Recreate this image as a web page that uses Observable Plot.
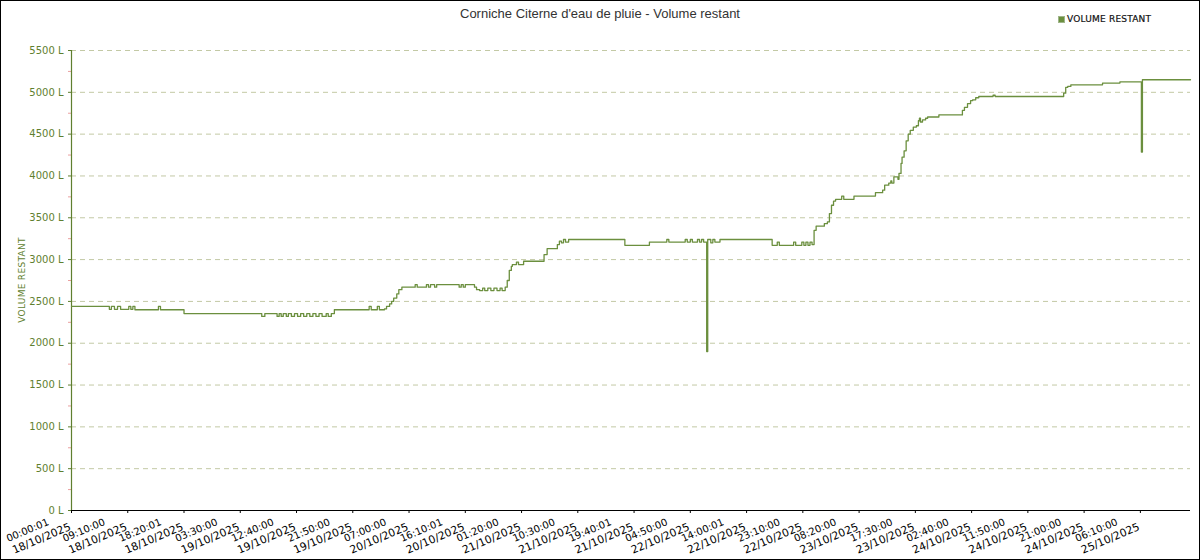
<!DOCTYPE html>
<html><head><meta charset="utf-8">
<script src="https://cdn.jsdelivr.net/npm/d3@7"></script>
<script src="https://cdn.jsdelivr.net/npm/@observablehq/plot@0.6"></script>
<style>
body{margin:0;background:#fff}
#wrap{position:relative;width:1200px;height:560px;box-sizing:border-box;border:1px solid #000;overflow:hidden;background:#fff}
#title{position:absolute;left:0;top:5px;width:1198px;text-align:center;font:13px "Liberation Sans",sans-serif;color:#333;line-height:16px}
#legsq{position:absolute;left:1057px;top:15px;width:5px;height:5px;background:#6b8f3e;border:1px solid #9fb58a}
#legtx{position:absolute;left:1066px;top:12px;font:9px "DejaVu Sans",sans-serif;color:#111;line-height:12px;letter-spacing:0.2px;-webkit-text-stroke:0.2px #111}
#ylab{position:absolute;left:21px;top:279px;transform:translate(-50%,-50%) rotate(-90deg);font:9px "DejaVu Sans",sans-serif;color:#5f7f2f;white-space:nowrap;letter-spacing:0.3px}
#chart{position:absolute;left:0;top:0}
</style></head>
<body>
<div id="wrap">
  <div id="chart"></div>
  <div id="title">Corniche Citerne d'eau de pluie - Volume restant</div>
  <div id="legsq"></div>
  <div id="legtx">VOLUME RESTANT</div>
  <div id="ylab">VOLUME RESTANT</div>
</div>
<script>
// x tick labels (two lines)
const tickTimes = ["00:00:01","09:10:00","18:20:01","03:30:00","12:40:00","21:50:00","07:00:00","16:10:01","01:20:00","10:30:00","19:40:01","04:50:00","14:00:01","23:10:00","08:20:00","17:30:00","02:40:00","11:50:00","21:00:00","06:10:00"];
const tickDays = ["18/10/2025","18/10/2025","18/10/2025","19/10/2025","19/10/2025","19/10/2025","20/10/2025","20/10/2025","21/10/2025","21/10/2025","21/10/2025","22/10/2025","22/10/2025","22/10/2025","23/10/2025","23/10/2025","24/10/2025","24/10/2025","24/10/2025","25/10/2025"];
// y ticks
const yTicks = [0,500,1000,1500,2000,2500,3000,3500,4000,4500,5000,5500];
const yMinor = [250,750,1250,1750,2250,2750,3250,3750,4250,4750,5250];
// series: day-of-October + time, volume in litres
const times = ["18 00:00","18 06:10","18 06:30","18 07:00","18 07:30","18 08:00","18 09:20","18 09:40","18 10:00","18 10:20","18 14:10","18 14:30","18 18:20",
"19 07:00","19 07:30","19 09:30","19 09:50","19 10:10","19 10:30","19 11:00","19 11:20","19 11:50","19 12:20","19 12:50","19 13:20","19 13:50","19 14:20","19 14:50","19 15:20","19 15:50","19 16:20","19 16:50","19 17:30","19 17:50","19 18:20","19 18:50",
"20 00:30","20 00:50","20 01:50","20 02:10","20 03:00","20 03:20","20 03:50","20 04:10","20 04:30","20 05:00","20 05:20","20 05:50","20 08:00","20 08:20","20 09:50","20 10:10","20 10:30","20 11:10","20 11:30","20 15:10","20 15:30","20 15:50","20 16:10","20 17:40","20 18:00","20 18:30","20 19:00","20 19:20","20 19:50","20 20:20","20 20:50","20 21:20","20 21:50","20 22:10","20 22:40","20 23:00","20 23:20","20 23:40","20 23:50",
"21 00:30","21 00:50","21 01:40","21 05:00","21 05:30","21 07:10","21 07:30","21 07:50","21 08:10","21 08:30","21 09:00","21 18:10","21 22:10",
"22 01:00","22 01:20","22 04:00","22 04:20","22 04:50","22 05:10","22 06:00","22 06:20","22 06:40","22 07:00","22 07:30","22 07:40","22 08:10","22 08:30","22 08:50","22 09:40","22 18:10","22 19:00","22 19:20","22 21:40","22 22:00","22 23:00","22 23:20","22 23:40",
"23 00:00","23 00:20","23 00:40","23 01:00","23 01:20","23 02:40","23 03:10","23 03:30","23 03:50","23 04:10","23 04:30","23 05:30","23 05:50","23 07:30","23 11:00","23 12:10","23 12:30","23 13:10","23 13:30","23 13:40","23 14:00","23 14:40","23 14:50","23 15:10","23 15:20","23 15:40","23 16:00","23 16:20","23 16:40","23 17:10","23 17:40","23 18:00","23 18:10","23 18:20","23 18:40","23 19:10","23 19:30","23 21:20",
"24 01:10","24 01:30","24 02:00","24 02:30","24 02:50","24 03:20","24 03:50","24 06:10","24 06:30","24 17:40","24 18:00","24 18:20","24 18:50",
"25 00:00","25 02:50","25 06:20","25 06:30","25 14:20"];
const volumes = [2440,2405,2440,2405,2440,2405,2440,2405,2440,2400,2440,2400,2355,
2320,2355,2320,2355,2320,2355,2320,2355,2320,2355,2320,2355,2320,2355,2320,2355,2320,2355,2320,2355,2320,2355,2400,
2440,2400,2440,2400,2410,2440,2470,2500,2540,2590,2640,2670,2700,2670,2700,2670,2700,2670,2700,2670,2700,2670,2700,2670,2640,2630,2660,2630,2660,2630,2660,2630,2660,2630,2670,2750,2870,2920,2940,
2970,2940,2980,3060,3130,3180,3220,3200,3240,3210,3240,3170,3210,
3240,3210,3240,3210,3240,3210,3240,3210,3240,3210,1900,3240,3200,3240,3210,3240,3170,3210,3170,3210,3170,3210,3170,3210,
3170,3210,3180,3350,3400,3430,3450,3550,3650,3700,3720,3760,3720,3760,3800,3830,3890,3915,3940,3915,3990,3960,4030,4150,4225,4300,4420,4500,4545,4585,4600,4660,4690,4645,4670,4690,4705,4730,
4785,4820,4865,4900,4910,4935,4950,4965,4950,4990,5060,5070,5090,
5110,5125,4285,5150,5150];

const parseT = s => { const [d, hm] = s.split(" "); const [h, m] = hm.split(":").map(Number); return new Date(Date.UTC(2025, 9, +d, h, m)); };
const parseTick = (t, d) => { const [h, m, s] = t.split(":").map(Number); const [dd, mm, yy] = d.split("/").map(Number); return new Date(Date.UTC(yy, mm - 1, dd, h, m, s)); };
const data = times.map((t, i) => ({t: parseT(t), v: volumes[i]}));
const ticks = tickTimes.map((t, i) => parseTick(t, tickDays[i]));
const xStart = parseT(times[0]);
const xEnd = parseT(times[times.length - 1]);

const green = "#5f7f2f";
const chart = Plot.plot({
  width: 1198, height: 558,
  marginLeft: 70, marginRight: 9, marginTop: 49, marginBottom: 49,
  style: {fontFamily: "DejaVu Sans, sans-serif", fontSize: "10px", background: "transparent", overflow: "visible"},
  x: {type: "utc", domain: [xStart, xEnd], label: null},
  y: {domain: [0, 5500], label: null},
  marks: [
    Plot.ruleY(yTicks.filter(d => d > 0), {stroke: "#c3c9a5", strokeDasharray: "5,4", strokeWidth: 1}),
    Plot.axisY(yMinor, {tickSize: 3, stroke: "#eaa0a0", tickFormat: () => "", label: null}),
    Plot.axisY(yTicks, {tickSize: 3, tickPadding: 5, stroke: green, fill: green, tickFormat: d => d + " L", label: null}),
    Plot.axisX(ticks, {tickSize: 3, stroke: "#000", tickFormat: () => "", label: null}),
    Plot.ruleX([xStart], {stroke: green, strokeWidth: 1.2}),
    Plot.ruleY([0], {stroke: "#000", strokeWidth: 1.2}),
    Plot.line(data, {x: "t", y: "v", stroke: "#6b8f3e", strokeWidth: 1.3, curve: "step-after"}),
    Plot.text(ticks, {x: d => d, frameAnchor: "bottom", text: (d, i) => tickDays[i], textAnchor: "end", lineAnchor: "bottom", rotate: -23, dy: 19, fontSize: 10.8, fill: "#000"}),
    Plot.text(ticks, {x: d => d, frameAnchor: "bottom", text: (d, i) => tickTimes[i], textAnchor: "end", lineAnchor: "bottom", rotate: -23, dy: 14, dx: -22, fontSize: 10, fill: "#000"})
  ]
});
document.getElementById("chart").appendChild(chart);
</script>
</body></html>
